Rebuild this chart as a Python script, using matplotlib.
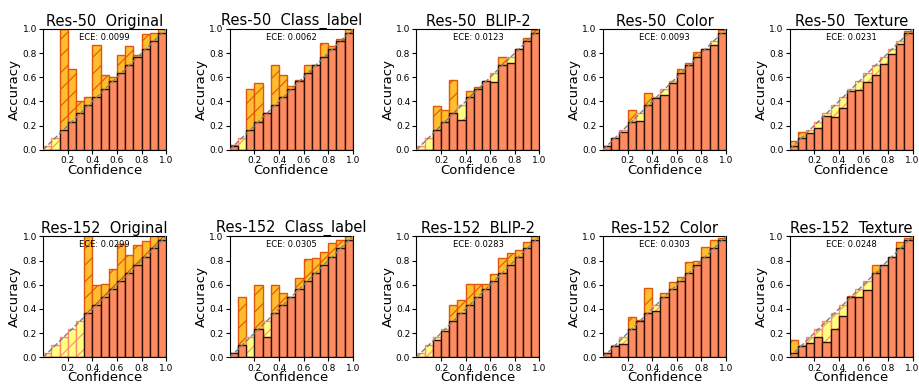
import numpy as np
import matplotlib
matplotlib.use("Agg")
import matplotlib.pyplot as plt

plt.rcParams['hatch.linewidth'] = 0.8

# 15 confidence bins, mean confidence per bin
bin_conf = [0.033, 0.10, 0.167, 0.233, 0.30, 0.367, 0.433, 0.50,
            0.567, 0.633, 0.70, 0.767, 0.833, 0.90, 0.967]

# accuracy per bin
res50_original = [0.0, 0.0, 1.0, 0.67, 0.40, 0.44, 0.87, 0.62, 0.60, 0.78,
                  0.86, 0.78, 0.96, 0.97, 1.0]
res50_class = [0.04, 0.0, 0.50, 0.555, 0.30, 0.70, 0.62, 0.53, 0.58, 0.70,
               0.70, 0.88, 0.86, 0.92, 1.0]
res50_blip = [0.0, 0.0, 0.36, 0.33, 0.575, 0.25, 0.49, 0.515, 0.57, 0.56,
              0.77, 0.72, 0.835, 0.925, 0.99]
res50_color = [0.035, 0.10, 0.15, 0.33, 0.235, 0.47, 0.43, 0.45, 0.55, 0.67,
               0.72, 0.81, 0.835, 0.87, 0.99]
res50_texture = [0.075, 0.15, 0.135, 0.18, 0.28, 0.27, 0.345, 0.49, 0.495, 0.56,
                 0.615, 0.71, 0.79, 0.875, 0.98]

res152_original = [0.0, 0.0, 0.0, 0.0, 0.0, 1.0, 0.60, 0.61, 0.73, 0.94,
                   0.845, 0.93, 0.965, 1.0, 1.0]
res152_class = [0.035, 0.50, 0.0, 0.60, 0.165, 0.60, 0.53, 0.50, 0.66, 0.81,
                0.82, 0.875, 0.945, 0.97, 1.0]
res152_blip = [0.0, 0.0, 0.14, 0.215, 0.43, 0.475, 0.61, 0.61, 0.605, 0.69,
               0.82, 0.865, 0.885, 0.95, 1.0]
res152_color = [0.035, 0.09, 0.11, 0.33, 0.305, 0.57, 0.38, 0.535, 0.62, 0.665,
                0.79, 0.80, 0.91, 0.97, 0.99]
res152_texture = [0.14, 0.09, 0.115, 0.165, 0.13, 0.235, 0.34, 0.505, 0.50, 0.56,
                  0.76, 0.765, 0.83, 0.95, 0.99]

titles = ['Res-50  Original', 'Res-50  Class_label', 'Res-50  BLIP-2', 'Res-50  Color', 'Res-50  Texture',
          'Res-152  Original', 'Res-152  Class_label', 'Res-152  BLIP-2', 'Res-152  Color', 'Res-152  Texture']
eces = ['0.0099', '0.0062', '0.0123', '0.0093', '0.0231',
        '0.0299', '0.0305', '0.0283', '0.0303', '0.0248']
accs = [res50_original, res50_class, res50_blip, res50_color, res50_texture,
        res152_original, res152_class, res152_blip, res152_color, res152_texture]

n_bins = len(bin_conf)
width = 1.0 / n_bins
centers = np.linspace(0, 1, n_bins + 1)[:-1] + width / 2

fig, axes = plt.subplots(2, 5, figsize=(9.2, 3.85), dpi=100)
fig.subplots_adjust(left=0.047, right=0.992, top=0.925, bottom=0.072,
                    wspace=0.517, hspace=0.717)

for ax, acc, title, ece in zip(axes.flat, accs, titles, eces):
    acc = np.array(acc)
    conf = np.array(bin_conf)
    lo = np.minimum(acc, conf)
    hi = np.maximum(acc, conf)
    under = acc >= conf

    # gap bars: orange where accuracy > confidence, yellow where overconfident
    ax.bar(centers[under], hi[under], width=width, color='#FFBE2E',
           edgecolor='#E0560A', hatch='//', linewidth=1.0, zorder=2)
    ax.bar(centers[~under], hi[~under], width=width, color='#FFFF80',
           edgecolor='#FF8A70', hatch='//', linewidth=1.0, zorder=2)
    # output bars
    ax.bar(centers, lo, width=width, color='#FF8C60',
           edgecolor='#2a1208', linewidth=1.0, zorder=3)
    ax.plot([0, 1], [0, 1], linestyle='--', color='gray', linewidth=1.0, zorder=4)

    ax.set_xlim(0, 1)
    ax.set_ylim(0, 1)
    ax.set_xticks([0.2, 0.4, 0.6, 0.8, 1.0])
    ax.set_yticks([0.0, 0.2, 0.4, 0.6, 0.8, 1.0])
    ax.tick_params(labelsize=6.5, length=3, pad=1.5)
    ax.set_xlabel('Confidence', fontsize=9.5, labelpad=-1)
    ax.set_ylabel('Accuracy', fontsize=9.5, labelpad=1)
    ax.set_title(title, fontsize=10.5, pad=2)
    ax.text(0.5, 0.97, 'ECE: ' + ece, transform=ax.transAxes, ha='center', va='top',
            fontsize=6, zorder=5)

fig.savefig('out.png', dpi=100)
